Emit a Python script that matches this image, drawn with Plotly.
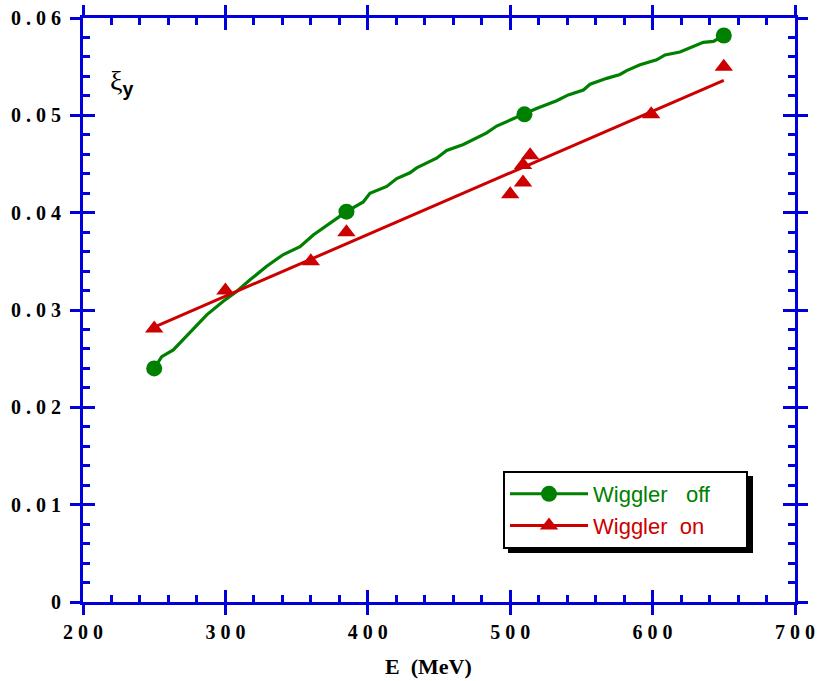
import numpy as np
import plotly.graph_objects as go

# ---- data ----
# Wiggler off: smooth curve and marker points
off_curve_E = [250, 255.3, 263.4, 272.8, 286.9, 298.5, 307.9, 317.3, 329, 340.7, 352.4, 361.7,
               371.1, 385, 396.8, 401.5, 413.3, 420.3, 429.6, 434.3, 448.3, 455.4, 467.1,
               483.5, 490.5, 495.2, 510, 518.5, 532.6, 540.8, 551.4, 556.1, 567.8, 577.1,
               581.8, 591.2, 602.9, 608.7, 619.2, 628.6, 635.6, 642.7, 650]
off_curve_xi = [0.0240, 0.0252, 0.0259, 0.0273, 0.0295, 0.0309, 0.0319, 0.0331, 0.0345, 0.0357,
                0.0365, 0.0377, 0.0387, 0.0401, 0.0411, 0.0420, 0.0427, 0.0435, 0.0441, 0.0446,
                0.0456, 0.0464, 0.0470, 0.0482, 0.0489, 0.0492, 0.0501, 0.0507, 0.0515, 0.0521,
                0.0526, 0.0532, 0.0538, 0.0542, 0.0546, 0.0552, 0.0557, 0.0562, 0.0565, 0.0571,
                0.0575, 0.0576, 0.0582]
off_pts_E = [250, 385, 510, 650]
off_pts_xi = [0.0240, 0.0401, 0.0501, 0.0582]

# Wiggler on: measured points and linear fit
on_E = [250, 300, 360, 385, 500, 509, 509, 514, 599, 650]
on_xi = [0.0281, 0.0320, 0.0350, 0.0380, 0.0419, 0.0431, 0.0449, 0.0459, 0.0501, 0.0550]
on_fit_E = [250, 650]

x_ticks = [200, 300, 400, 500, 600, 700]
x_ticktext = ["<b>2 0 0</b>", "<b>3 0 0</b>", "<b>4 0 0</b>", "<b>5 0 0</b>", "<b>6 0 0</b>", "<b>7 0 0</b>"]
y_ticks = [0, 0.01, 0.02, 0.03, 0.04, 0.05, 0.06]
y_ticktext = ["<b>0</b>", "<b>0 . 0 1</b>", "<b>0 . 0 2</b>", "<b>0 . 0 3</b>",
              "<b>0 . 0 4</b>", "<b>0 . 0 5</b>", "<b>0 . 0 6</b>"]

GREEN = "#008000"
RED = "#CC0000"
BLUE = "#0000DD"

coef = np.polyfit(on_E, on_xi, 1)
on_fit_xi = list(np.polyval(coef, on_fit_E))

fig = go.Figure()

fig.add_trace(go.Scatter(x=off_curve_E, y=off_curve_xi, mode="lines",
                         line=dict(color=GREEN, width=3.2), showlegend=False, hoverinfo="skip"))
fig.add_trace(go.Scatter(x=[None], y=[None], mode="lines+markers",
                         line=dict(color=GREEN, width=3),
                         marker=dict(symbol="circle", size=16, color=GREEN),
                         name='<span style="color:#008000">Wiggler\u00a0\u00a0 off</span>' + "\u00a0" * 5))
fig.add_trace(go.Scatter(x=off_pts_E, y=off_pts_xi, mode="markers",
                         marker=dict(symbol="circle", size=16, color=GREEN),
                         showlegend=False))
fig.add_trace(go.Scatter(x=on_fit_E, y=on_fit_xi, mode="lines",
                         line=dict(color=RED, width=3), showlegend=False, hoverinfo="skip"))
fig.add_trace(go.Scatter(x=[None], y=[None], mode="lines+markers",
                         line=dict(color=RED, width=3),
                         marker=dict(symbol="triangle-up", size=16, color=RED),
                         name='<span style="color:#CC0000">Wiggler\u00a0 on</span>'))
fig.add_trace(go.Scatter(x=on_E, y=on_xi, mode="markers",
                         marker=dict(symbol="triangle-up", size=16, color=RED),
                         showlegend=False))
# carrier trace for the overlay axes (inside ticks)
fig.add_trace(go.Scatter(x=[None], y=[None], xaxis="x2", yaxis="y2", showlegend=False))

tickfont = dict(family="Liberation Serif", size=20, color="black")

fig.update_layout(
    width=820, height=681,
    margin=dict(l=83, r=25, t=18, b=79),
    paper_bgcolor="white", plot_bgcolor="white",
    showlegend=True,
    xaxis=dict(range=[200, 700], showline=True, linecolor=BLUE, linewidth=3, mirror="ticks",
               ticks="outside", ticklen=10, tickwidth=3, tickcolor=BLUE,
               tickvals=x_ticks, ticktext=x_ticktext, tickfont=tickfont,
               showgrid=False, zeroline=False, automargin=False),
    yaxis=dict(range=[0, 0.06], showline=True, linecolor=BLUE, linewidth=3, mirror="ticks",
               ticks="outside", ticklen=10, tickwidth=3, tickcolor=BLUE,
               tickvals=y_ticks, ticktext=y_ticktext, tickfont=tickfont, ticklabelstandoff=5,
               showgrid=False, zeroline=False, automargin=False),
    xaxis2=dict(range=[200, 700], overlaying="x", anchor="y2", side="bottom",
                showline=True, linecolor=BLUE, linewidth=3, mirror="ticks",
                ticks="inside", ticklen=12, tickwidth=3, tickcolor=BLUE,
                tickvals=x_ticks, showticklabels=False,
                minor=dict(ticks="inside", ticklen=7, tickwidth=3, tickcolor=BLUE, dtick=20, tick0=200),
                showgrid=False, zeroline=False, automargin=False),
    yaxis2=dict(range=[0, 0.06], overlaying="y", anchor="x2", side="left",
                showline=True, linecolor=BLUE, linewidth=3, mirror="ticks",
                ticks="inside", ticklen=12, tickwidth=3, tickcolor=BLUE,
                tickvals=y_ticks, showticklabels=False,
                minor=dict(ticks="inside", ticklen=7, tickwidth=3, tickcolor=BLUE, dtick=0.002, tick0=0),
                showgrid=False, zeroline=False, automargin=False),
    legend=dict(x=(503 - 83) / 712, y=(602 - 471) / 584, xanchor="left", yanchor="top",
                bgcolor="white", bordercolor="black", borderwidth=2,
                font=dict(family="Arial, Liberation Sans", size=22),
                itemwidth=78, tracegroupgap=0),
)

# legend shadow
fig.add_shape(type="rect", xref="paper", yref="paper", layer="below",
              x0=(508 - 83) / 712, x1=(753 - 83) / 712,
              y0=(602 - 553) / 584, y1=(602 - 476) / 584,
              fillcolor="black", line=dict(width=0))

fig.add_annotation(text="<b>E  (MeV)</b>", xref="paper", yref="paper",
                   x=(428 - 83) / 712, y=(602 - 666) / 584, xanchor="center", yanchor="middle",
                   showarrow=False,
                   font=dict(family="Liberation Serif", size=22, color="black"))
fig.add_annotation(text='ξ<sub><b><span style="font-family:Arial">y</span></b></sub>',
                   xref="paper", yref="paper",
                   x=(121 - 83) / 712, y=(602 - 83) / 584, xanchor="center", yanchor="middle",
                   showarrow=False,
                   font=dict(family="Liberation Serif", size=28, color="black"))

fig.write_html("out.html", config={"displayModeBar": False},
               post_script="document.body.style.margin='0';")
